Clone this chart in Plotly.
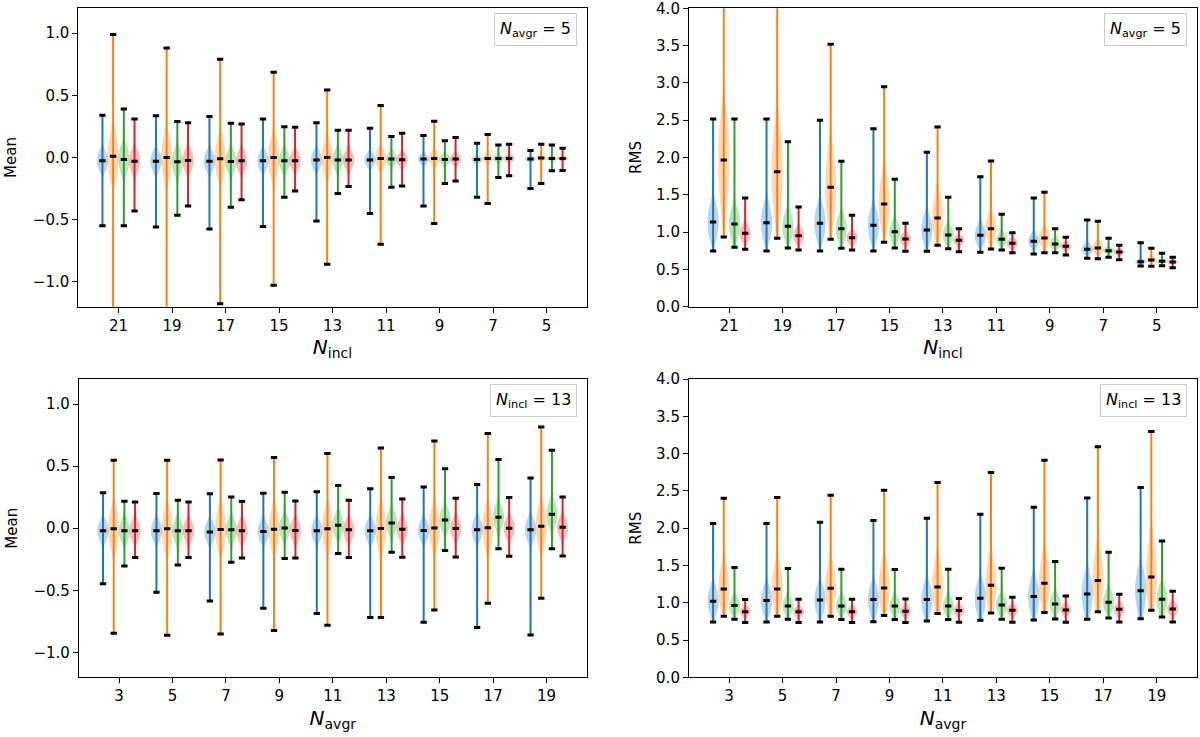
import plotly.graph_objects as go
from plotly.subplots import make_subplots

# x groups
incl_groups = [21, 19, 17, 15, 13, 11, 9, 7, 5]
avgr_groups = [3, 5, 7, 9, 11, 13, 15, 17, 19]

colors = ['#1f77b4', '#ff7f0e', '#2ca02c', '#d62728']
fills = ['rgba(31,119,180,0.3)', 'rgba(255,127,14,0.3)', 'rgba(44,160,44,0.3)', 'rgba(214,39,40,0.3)']

# Mean vs N_incl (N_avgr = 5); rows: blue, orange, green, red
mean_incl_max = [
    [0.34, 0.335, 0.33, 0.31, 0.28, 0.236, 0.177, 0.115, 0.056],
    [0.99, 0.88, 0.79, 0.686, 0.544, 0.418, 0.292, 0.185, 0.107],
    [0.39, 0.29, 0.276, 0.247, 0.22, 0.169, 0.134, 0.10, 0.10],
    [0.31, 0.28, 0.27, 0.244, 0.22, 0.196, 0.161, 0.107, 0.075],
]
mean_incl_min = [
    [-0.55, -0.56, -0.575, -0.555, -0.51, -0.45, -0.39, -0.32, -0.25],
    [-1.40, -1.30, -1.177, -1.027, -0.858, -0.697, -0.53, -0.37, -0.209],
    [-0.55, -0.464, -0.40, -0.32, -0.29, -0.24, -0.209, -0.16, -0.107],
    [-0.43, -0.39, -0.34, -0.27, -0.233, -0.23, -0.19, -0.147, -0.105],
]
mean_incl_med = [
    [-0.027, -0.03, -0.03, -0.027, -0.02, -0.02, -0.013, -0.016, -0.013],
    [0.01, 0.0, -0.01, 0.0, 0.0, -0.008, -0.008, -0.008, -0.005],
    [-0.016, -0.035, -0.032, -0.027, -0.02, -0.013, -0.016, -0.008, -0.008],
    [-0.03, -0.024, -0.027, -0.027, -0.02, -0.019, -0.013, -0.008, -0.008],
]
mean_incl_lo = [
    [-0.082, -0.085, -0.085, -0.077, -0.07, -0.055, -0.038, -0.034, -0.025],
    [-0.11, -0.11, -0.11, -0.1, -0.085, -0.058, -0.043, -0.028, -0.017],
    [-0.091, -0.1, -0.092, -0.082, -0.07, -0.048, -0.044, -0.026, -0.018],
    [-0.09, -0.084, -0.082, -0.077, -0.068, -0.054, -0.041, -0.026, -0.018],
]
mean_incl_hi = [
    [0.028, 0.025, 0.025, 0.023, 0.03, 0.015, 0.012, 0.002, -0.001],
    [0.13, 0.11, 0.09, 0.1, 0.085, 0.042, 0.027, 0.012, 0.007],
    [0.059, 0.03, 0.028, 0.028, 0.03, 0.022, 0.012, 0.01, 0.002],
    [0.03, 0.036, 0.028, 0.023, 0.028, 0.016, 0.015, 0.01, 0.002],
]

# RMS vs N_incl (N_avgr = 5)
rms_incl_max = [
    [2.516, 2.516, 2.50, 2.387, 2.069, 1.743, 1.457, 1.162, 0.858],
    [4.3, 4.2, 3.517, 2.95, 2.409, 1.953, 1.533, 1.144, 0.782],
    [2.516, 2.212, 1.949, 1.707, 1.466, 1.238, 1.046, 0.916, 0.715],
    [1.457, 1.336, 1.225, 1.117, 1.046, 0.992, 0.93, 0.822, 0.661],
]
rms_incl_min = [
    [0.746, 0.746, 0.746, 0.746, 0.742, 0.728, 0.706, 0.648, 0.545],
    [0.934, 0.916, 0.903, 0.863, 0.822, 0.773, 0.724, 0.644, 0.541],
    [0.796, 0.787, 0.782, 0.787, 0.778, 0.76, 0.724, 0.661, 0.55],
    [0.769, 0.76, 0.76, 0.742, 0.737, 0.724, 0.693, 0.63, 0.523],
]
rms_incl_med = [
    [1.135, 1.126, 1.117, 1.09, 1.028, 0.956, 0.876, 0.769, 0.603],
    [1.967, 1.81, 1.60, 1.377, 1.189, 1.046, 0.921, 0.787, 0.626],
    [1.108, 1.077, 1.046, 1.006, 0.961, 0.903, 0.84, 0.751, 0.608],
    [0.983, 0.952, 0.925, 0.907, 0.889, 0.849, 0.809, 0.733, 0.599],
]
rms_incl_lo = [
    [0.97, 0.97, 0.96, 0.95, 0.91, 0.87, 0.82, 0.73, 0.585],
    [1.5, 1.4, 1.3, 1.18, 1.03, 0.94, 0.85, 0.74, 0.605],
    [0.97, 0.95, 0.93, 0.91, 0.89, 0.85, 0.8, 0.725, 0.595],
    [0.91, 0.89, 0.87, 0.86, 0.85, 0.81, 0.78, 0.71, 0.585],
]
rms_incl_hi = [
    [1.3, 1.29, 1.28, 1.24, 1.16, 1.05, 0.94, 0.82, 0.625],
    [2.35, 2.2, 1.93, 1.64, 1.4, 1.17, 1.0, 0.84, 0.65],
    [1.25, 1.2, 1.16, 1.09, 1.04, 0.96, 0.89, 0.78, 0.625],
    [1.06, 1.02, 0.98, 0.96, 0.93, 0.89, 0.84, 0.76, 0.615],
]

# Mean vs N_avgr (N_incl = 13)
mean_avgr_max = [
    [0.285, 0.279, 0.277, 0.282, 0.293, 0.317, 0.333, 0.352, 0.405],
    [0.548, 0.548, 0.55, 0.569, 0.601, 0.647, 0.703, 0.762, 0.816],
    [0.217, 0.225, 0.252, 0.29, 0.344, 0.408, 0.478, 0.553, 0.628],
    [0.212, 0.212, 0.215, 0.22, 0.225, 0.236, 0.242, 0.247, 0.252],
]
mean_avgr_min = [
    [-0.446, -0.515, -0.585, -0.644, -0.687, -0.719, -0.757, -0.80, -0.859],
    [-0.846, -0.862, -0.851, -0.824, -0.78, -0.719, -0.658, -0.604, -0.564],
    [-0.303, -0.295, -0.274, -0.244, -0.204, -0.193, -0.18, -0.166, -0.166],
    [-0.236, -0.236, -0.239, -0.239, -0.236, -0.234, -0.231, -0.226, -0.223],
]
mean_avgr_med = [
    [-0.021, -0.021, -0.03, -0.027, -0.021, -0.021, -0.019, -0.013, -0.013],
    [-0.005, -0.005, -0.011, -0.008, -0.005, -0.003, 0.003, 0.005, 0.016],
    [-0.021, -0.021, -0.013, 0.003, 0.024, 0.043, 0.067, 0.089, 0.113],
    [-0.021, -0.021, -0.021, -0.019, -0.013, -0.008, -0.003, 0.0, 0.008],
]
mean_avgr_lo = [
    [-0.076, -0.076, -0.085, -0.082, -0.076, -0.076, -0.074, -0.073, -0.075],
    [-0.105, -0.105, -0.111, -0.108, -0.105, -0.103, -0.097, -0.095, -0.084],
    [-0.081, -0.081, -0.073, -0.057, -0.038, -0.019, 0.003, 0.024, 0.046],
    [-0.076, -0.076, -0.076, -0.074, -0.068, -0.063, -0.058, -0.055, -0.047],
]
mean_avgr_hi = [
    [0.034, 0.034, 0.025, 0.028, 0.034, 0.034, 0.036, 0.047, 0.049],
    [0.095, 0.095, 0.089, 0.092, 0.095, 0.097, 0.103, 0.105, 0.116],
    [0.039, 0.039, 0.047, 0.063, 0.086, 0.105, 0.131, 0.154, 0.18],
    [0.034, 0.034, 0.034, 0.036, 0.042, 0.047, 0.052, 0.055, 0.063],
]

# RMS vs N_avgr (N_incl = 13)
rms_avgr_max = [
    [2.063, 2.063, 2.081, 2.103, 2.134, 2.188, 2.282, 2.407, 2.546],
    [2.403, 2.412, 2.443, 2.51, 2.613, 2.747, 2.913, 3.092, 3.298],
    [1.472, 1.459, 1.45, 1.445, 1.45, 1.463, 1.553, 1.678, 1.83],
    [1.043, 1.047, 1.047, 1.051, 1.056, 1.074, 1.092, 1.114, 1.154],
]
rms_avgr_min = [
    [0.743, 0.743, 0.743, 0.747, 0.756, 0.765, 0.77, 0.779, 0.787],
    [0.819, 0.819, 0.819, 0.828, 0.855, 0.864, 0.868, 0.881, 0.899],
    [0.779, 0.779, 0.774, 0.774, 0.774, 0.779, 0.783, 0.796, 0.81],
    [0.734, 0.734, 0.734, 0.734, 0.738, 0.738, 0.738, 0.743, 0.743],
]
rms_avgr_med = [
    [1.02, 1.029, 1.038, 1.043, 1.043, 1.06, 1.083, 1.119, 1.163],
    [1.186, 1.186, 1.195, 1.199, 1.213, 1.235, 1.262, 1.298, 1.347],
    [0.962, 0.957, 0.957, 0.957, 0.957, 0.971, 0.984, 1.007, 1.047],
    [0.881, 0.881, 0.881, 0.886, 0.895, 0.899, 0.904, 0.913, 0.917],
]
rms_avgr_lo = [
    [0.91, 0.91, 0.91, 0.91, 0.91, 0.92, 0.93, 0.95, 0.97],
    [1.02, 1.02, 1.02, 1.02, 1.04, 1.06, 1.08, 1.1, 1.12],
    [0.89, 0.89, 0.89, 0.89, 0.89, 0.9, 0.91, 0.92, 0.94],
    [0.84, 0.84, 0.84, 0.84, 0.85, 0.85, 0.86, 0.86, 0.86],
]
rms_avgr_hi = [
    [1.16, 1.16, 1.17, 1.18, 1.19, 1.21, 1.24, 1.29, 1.35],
    [1.4, 1.4, 1.41, 1.42, 1.45, 1.48, 1.52, 1.58, 1.67],
    [1.04, 1.04, 1.04, 1.04, 1.04, 1.06, 1.08, 1.11, 1.17],
    [0.92, 0.92, 0.92, 0.93, 0.94, 0.94, 0.95, 0.96, 0.97],
]

FONT = 'DejaVu Sans'

panels = [
    dict(row=1, col=1, groups=incl_groups, offsets=[0.6, 0.2, -0.2, -0.6],
         mx=mean_incl_max, mn=mean_incl_min, md=mean_incl_med, lo=mean_incl_lo, hi=mean_incl_hi),
    dict(row=1, col=2, groups=incl_groups, offsets=[0.6, 0.2, -0.2, -0.6],
         mx=rms_incl_max, mn=rms_incl_min, md=rms_incl_med, lo=rms_incl_lo, hi=rms_incl_hi),
    dict(row=2, col=1, groups=avgr_groups, offsets=[-0.6, -0.2, 0.2, 0.6],
         mx=mean_avgr_max, mn=mean_avgr_min, md=mean_avgr_med, lo=mean_avgr_lo, hi=mean_avgr_hi),
    dict(row=2, col=2, groups=avgr_groups, offsets=[-0.6, -0.2, 0.2, 0.6],
         mx=rms_avgr_max, mn=rms_avgr_min, md=rms_avgr_med, lo=rms_avgr_lo, hi=rms_avgr_hi),
]

fig = make_subplots(rows=2, cols=2)

for p in panels:
    r, c = p['row'], p['col']
    # violin bodies
    for s in range(4):
        for i, g in enumerate(p['groups']):
            pos = g + p['offsets'][s]
            fig.add_trace(go.Violin(
                x=[pos] * 3,
                y=[p['lo'][s][i], p['md'][s][i], p['hi'][s][i]],
                spanmode='manual', span=[p['mn'][s][i], p['mx'][s][i]],
                width=0.42, points=False, box_visible=False, meanline_visible=False,
                fillcolor=fills[s], line=dict(color=fills[s], width=0),
                hoverinfo='skip', showlegend=False), row=r, col=c)
    # min-max lines
    for s in range(4):
        xs, ys = [], []
        for i, g in enumerate(p['groups']):
            pos = g + p['offsets'][s]
            xs += [pos, pos, None]
            ys += [p['mn'][s][i], p['mx'][s][i], None]
        fig.add_trace(go.Scatter(x=xs, y=ys, mode='lines', line=dict(color=colors[s], width=2),
                                 hoverinfo='skip', showlegend=False), row=r, col=c)
    # caps at min, max, median
    for s in range(4):
        xs, ys = [], []
        for i, g in enumerate(p['groups']):
            pos = g + p['offsets'][s]
            xs += [pos, pos, pos]
            ys += [p['mn'][s][i], p['mx'][s][i], p['md'][s][i]]
        fig.add_trace(go.Scatter(x=xs, y=ys, mode='markers',
                                 marker=dict(symbol='line-ew', size=4.5, color='black',
                                             line=dict(width=3, color='black')),
                                 hoverinfo='skip', showlegend=False, cliponaxis=True), row=r, col=c)

axis_common = dict(showgrid=False, zeroline=False, showline=True, mirror=True,
                   linecolor='black', linewidth=1.2, ticks='outside', ticklen=5,
                   tickwidth=1.2, tickcolor='black', automargin=False,
                   ticklabeloverflow='allow',
                   tickfont=dict(family=FONT, size=15, color='black'))

fig.update_xaxes(**axis_common)
fig.update_yaxes(**axis_common)

title_x = dict(family=FONT, size=20, color='black')
title_y = dict(family=FONT, size=15, color='black')

fig.update_layout(
    width=1200, height=737,
    margin=dict(l=0, r=0, t=0, b=0),
    plot_bgcolor='white', paper_bgcolor='white',
    violinmode='overlay',
    xaxis=dict(domain=[0.0653, 0.4889], range=[22.5, 3.5], tickvals=incl_groups,
               title=dict(text='<i>N</i><sub>incl</sub>', font=title_x, standoff=6)),
    xaxis2=dict(domain=[0.5742, 0.9973], range=[22.5, 3.5], tickvals=incl_groups,
                title=dict(text='<i>N</i><sub>incl</sub>', font=title_x, standoff=6)),
    xaxis3=dict(domain=[0.0658, 0.4889], range=[1.5, 20.5], tickvals=avgr_groups,
                title=dict(text='<i>N</i><sub>avgr</sub>', font=title_x, standoff=6)),
    xaxis4=dict(domain=[0.5742, 0.9973], range=[1.5, 20.5], tickvals=avgr_groups,
                title=dict(text='<i>N</i><sub>avgr</sub>', font=title_x, standoff=6)),
    yaxis=dict(domain=[0.5839, 0.9887], range=[-1.2, 1.2], tickvals=[-1, -0.5, 0, 0.5, 1],
               tickformat='.1f', title=dict(text='Mean', font=title_y, standoff=12)),
    yaxis2=dict(domain=[0.5839, 0.9887], range=[0, 4], dtick=0.5, tick0=0,
                tickformat='.1f', title=dict(text='RMS', font=title_y, standoff=10)),
    yaxis3=dict(domain=[0.0810, 0.4855], range=[-1.2, 1.2], tickvals=[-1, -0.5, 0, 0.5, 1],
                tickformat='.1f', title=dict(text='Mean', font=title_y, standoff=12)),
    yaxis4=dict(domain=[0.0810, 0.4855], range=[0, 4], dtick=0.5, tick0=0,
                tickformat='.1f', title=dict(text='RMS', font=title_y, standoff=10)),
)

box_labels = [('x', 'y', '<i>N</i><sub>avgr</sub> = 5'),
              ('x2', 'y2', '<i>N</i><sub>avgr</sub> = 5'),
              ('x3', 'y3', '<i>N</i><sub>incl</sub> = 13'),
              ('x4', 'y4', '<i>N</i><sub>incl</sub> = 13')]
for xa, ya, txt in box_labels:
    fig.add_annotation(text=txt, xref=xa + ' domain', yref=ya + ' domain', x=0.981, y=0.985,
                       xanchor='right', yanchor='top', showarrow=False,
                       font=dict(family=FONT, size=16, color='black'),
                       bgcolor='white', bordercolor='#cccccc', borderwidth=1, borderpad=5)

# page body has a default margin; drop it so the figure fills the window
fig.write_html("out.html", config={'displayModeBar': False},
               post_script="document.body.style.margin='0';")
